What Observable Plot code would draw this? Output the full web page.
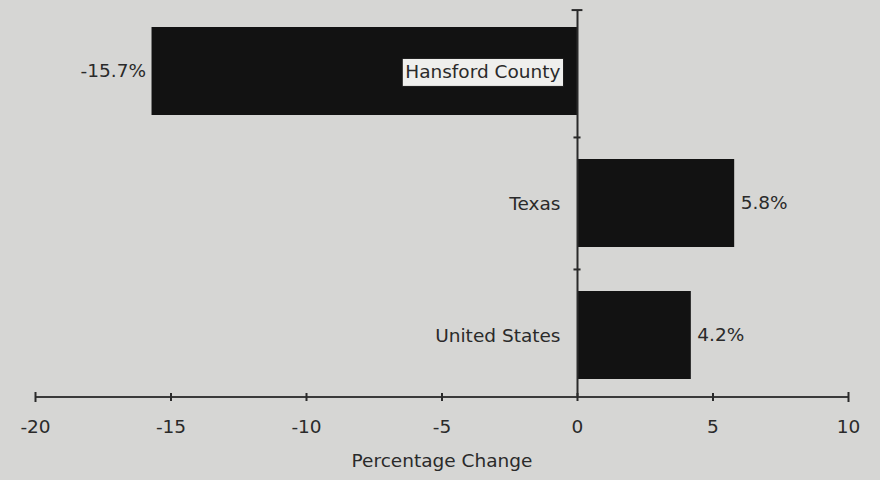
<!DOCTYPE html>
<html>
<head>
<meta charset="utf-8">
<script src="https://cdn.jsdelivr.net/npm/d3@7"></script>
<script src="https://cdn.jsdelivr.net/npm/@observablehq/plot@0.6"></script>
<style>
  html, body { margin: 0; padding: 0; background: #d6d6d4; }
</style>
</head>
<body>
<div id="chart"></div>
<script>
// ---- data ----
const regions = ["Hansford County", "Texas", "United States"];
const changes = [-15.7, 5.8, 4.2];
const valueLabels = ["-15.7%", "5.8%", "4.2%"];
const xTicks = [-20, -15, -10, -5, 0, 5, 10];
const xTickLabels = ["-20", "-15", "-10", "-5", "0", "5", "10"];
const axisTitle = "Percentage Change";

const data = regions.map((r, i) => ({ region: r, change: changes[i], label: valueLabels[i] }));

// ---- layout ----
const W = 880, H = 480, mt = 10, mb = 83, ml = 35, mr = 32;
const padIn = 0.33, padOut = 0.13;
const step = (H - mt - mb) / (regions.length - padIn + 2 * padOut);
const bw = (1 - padIn) * step;
const ink = "#2a2a2a";
const barFill = "#121212";
const bg = "#d6d6d4";

const chart = Plot.plot({
  width: W, height: H,
  marginTop: mt, marginBottom: mb, marginLeft: ml, marginRight: mr,
  style: { fontFamily: "DejaVu Sans", fontSize: "18.5px", background: bg, color: ink, overflow: "visible" },
  x: { domain: [xTicks[0], xTicks[xTicks.length - 1]] },
  y: { domain: regions, paddingInner: padIn, paddingOuter: padOut, axis: null },
  marks: [
    Plot.barX(data, { x: "change", y: "region", fill: barFill }),
    // vertical zero axis
    Plot.ruleX([0], { stroke: ink, strokeWidth: 2 }),
    // band boundary ticks on the zero axis
    Plot.ruleY(regions.slice(1), { y: d => d, dy: -step / 2, x1: -0.13, x2: 0.13, stroke: ink, strokeWidth: 2 }),
    Plot.ruleY([regions[0]], { y: d => d, dy: -(bw / 2 + padOut * step), x1: -0.2, x2: 0.2, stroke: ink, strokeWidth: 2 }),
    // horizontal axis line
    Plot.ruleY([regions[regions.length - 1]], { y: d => d, dy: bw / 2 + padOut * step, x1: xTicks[0], x2: xTicks[xTicks.length - 1], stroke: "#3a3a3a", strokeWidth: 2 }),
    // x ticks crossing the axis line
    Plot.ruleX(xTicks.slice(1, -1), { x: d => d, insetTop: H - mt - mb - 4, insetBottom: -4, stroke: ink, strokeWidth: 2 }),
    Plot.ruleX([xTicks[0], xTicks[xTicks.length - 1]], { x: d => d, insetTop: H - mt - mb - 5, insetBottom: -5, stroke: ink, strokeWidth: 2 }),
    Plot.axisX({
      ticks: xTicks,
      tickFormat: d => xTickLabels[xTicks.indexOf(d)],
      tickSize: 0, tickPadding: 22, label: null, fill: ink
    }),
    Plot.text([axisTitle], { frameAnchor: "bottom", text: d => d, dy: 69, fill: ink }),
    // category labels
    Plot.text(data, { x: 0, y: "region", text: "region", textAnchor: "end", dx: -17, dy: 1, fill: ink }),
    // value labels
    Plot.text(data.filter(d => d.change < 0), { x: "change", y: "region", text: "label", textAnchor: "end", dx: -6, fill: ink }),
    Plot.text(data.filter(d => d.change >= 0), { x: "change", y: "region", text: "label", textAnchor: "start", dx: 6, fill: ink })
  ]
});

document.getElementById("chart").appendChild(chart);

// white box behind the label that sits on the dark bar
chart.querySelectorAll("text").forEach(t => {
  if (t.textContent === regions[0]) {
    const b = t.getBBox();
    const r = document.createElementNS("http://www.w3.org/2000/svg", "rect");
    r.setAttribute("x", b.x - 3);
    r.setAttribute("y", b.y - 3);
    r.setAttribute("width", b.width + 6);
    r.setAttribute("height", b.height + 7);
    r.setAttribute("fill", "#efefed");
    r.setAttribute("stroke", "#1a1a1a");
    r.setAttribute("stroke-width", 1);
    const tr = t.getAttribute("transform");
    if (tr) r.setAttribute("transform", tr);
    t.parentNode.insertBefore(r, t);
  }
});
</script>
</body>
</html>
